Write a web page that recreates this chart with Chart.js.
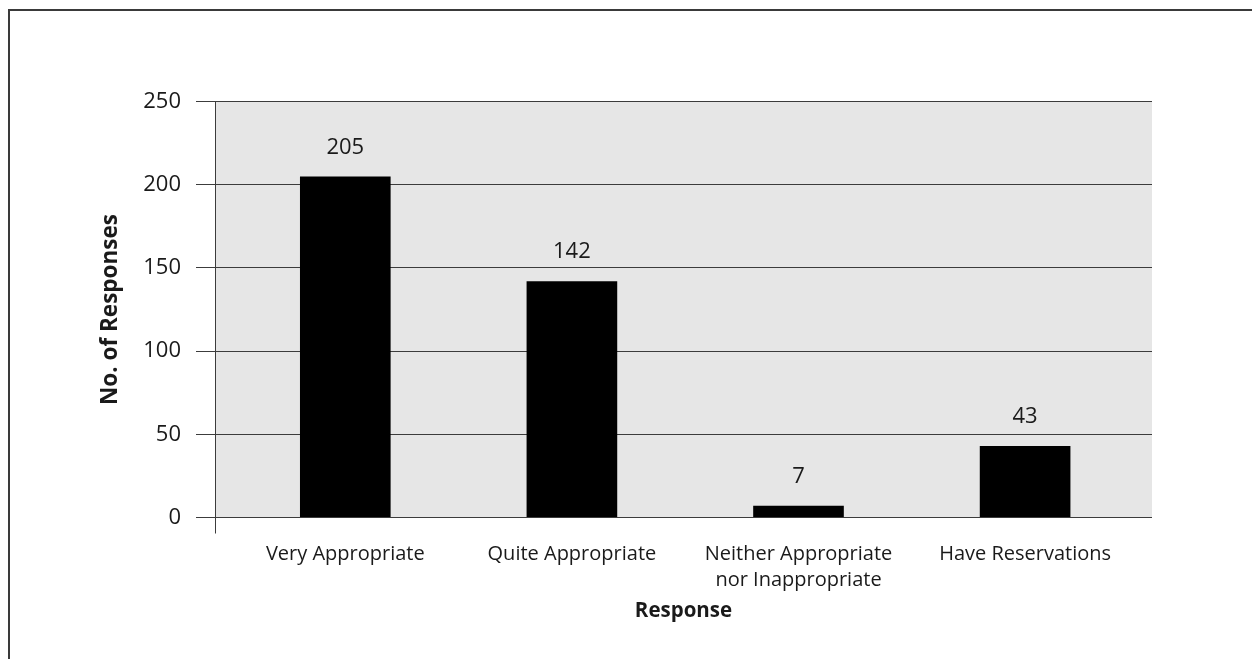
<!DOCTYPE html>
<html>
<head>
<meta charset="utf-8">
<script src="https://cdn.jsdelivr.net/npm/chart.js@4/dist/chart.umd.min.js"></script>
<style>
  html, body { margin: 0; padding: 0; background: #ffffff; overflow: hidden; }
  #frame { position: absolute; left: 8px; top: 9px; width: 1400px; height: 800px; border: 2px solid #3a3a3a; box-sizing: border-box; }
  #chart { position: absolute; left: 0; top: 0; }
</style>
</head>
<body>
<div id="frame"></div>
<canvas id="chart" width="1252" height="659"></canvas>
<script>
// Survey responses
const categories = [
  'Very Appropriate',
  'Quite Appropriate',
  ['Neither Appropriate', 'nor Inappropriate'],
  'Have Reservations'
];
const responseCounts = [205, 142, 7, 43];
const yTicks = [0, 50, 100, 150, 200, 250];

const FONT = "'Open Sans', 'Noto Sans', sans-serif";
const TEXT = '#1a1a1a';
const GRID = '#3c3c3c';

// Grey plot background plus the axis line running past the zero line
const plotFrame = {
  id: 'plotFrame',
  beforeDraw(chart) {
    const { ctx, chartArea: a } = chart;
    ctx.save();
    ctx.fillStyle = '#e6e6e6';
    ctx.fillRect(a.left, a.top, a.right - a.left, a.bottom - a.top);
    ctx.restore();
  },
  afterDraw(chart) {
    const { ctx, chartArea: a } = chart;
    const y = chart.scales.y;
    ctx.save();
    ctx.strokeStyle = GRID;
    ctx.lineWidth = 1;
    ctx.beginPath();
    ctx.moveTo(a.left + 0.5, y.getPixelForValue(yTicks[yTicks.length - 1]));
    ctx.lineTo(a.left + 0.5, y.getPixelForValue(0) + 16);
    ctx.stroke();
    ctx.restore();
  }
};

// Value printed above each bar
const valueLabels = {
  id: 'valueLabels',
  afterDatasetsDraw(chart) {
    const { ctx } = chart;
    const meta = chart.getDatasetMeta(0);
    ctx.save();
    ctx.font = '22px ' + FONT;
    ctx.fillStyle = TEXT;
    ctx.textAlign = 'center';
    ctx.textBaseline = 'middle';
    meta.data.forEach((bar, i) => {
      ctx.fillText(String(responseCounts[i]), bar.x, bar.y - 29);
    });
    ctx.restore();
  }
};

new Chart(document.getElementById('chart'), {
  type: 'bar',
  data: {
    datasets: [{
      data: responseCounts.map((v, i) => ({ x: i, y: v })),
      backgroundColor: '#000000',
      borderWidth: 0,
      barPercentage: 0.4,
      categoryPercentage: 1
    }]
  },
  options: {
    responsive: false,
    animation: false,
    devicePixelRatio: 1,
    layout: { padding: { top: 101.5, right: 100, bottom: 0, left: 0 } },
    plugins: { legend: { display: false }, tooltip: { enabled: false } },
    scales: {
      x: {
        type: 'linear',
        offset: false,
        min: -0.575,
        max: categories.length - 1 + 0.56,
        grid: { display: false, drawTicks: false, offset: false },
        border: { display: false },
        afterBuildTicks(scale) {
          scale.ticks = categories.map((_, i) => ({ value: i }));
        },
        afterFit(scale) { scale.height = 659 - 517.5; },
        ticks: {
          autoSkip: false,
          maxRotation: 0,
          padding: 23,
          color: TEXT,
          font: { family: FONT, size: 20, lineHeight: 1.33 },
          callback: (v) => categories[v]
        },
        title: {
          display: true,
          text: 'Response',
          color: TEXT,
          font: { family: FONT, size: 20.5, weight: 'bold', lineHeight: 1.2 },
          padding: { top: 0, bottom: 36 }
        }
      },
      y: {
        min: 0,
        max: 250,
        afterBuildTicks(scale) {
          scale.ticks = yTicks.map(v => ({ value: v }));
        },
        afterFit(scale) { scale.width = 215; },
        grid: { color: GRID, lineWidth: 1, drawTicks: true, tickLength: 19, tickColor: GRID },
        border: { display: true, color: GRID, width: 1 },
        ticks: {
          padding: 15,
          color: TEXT,
          font: { family: FONT, size: 22 }
        },
        title: {
          display: true,
          text: 'No. of Responses',
          color: TEXT,
          font: { family: FONT, size: 22.5, weight: 'bold', lineHeight: 1.2 },
          padding: { top: 97, bottom: 0 }
        }
      }
    }
  },
  plugins: [plotFrame, valueLabels]
});
</script>
</body>
</html>
